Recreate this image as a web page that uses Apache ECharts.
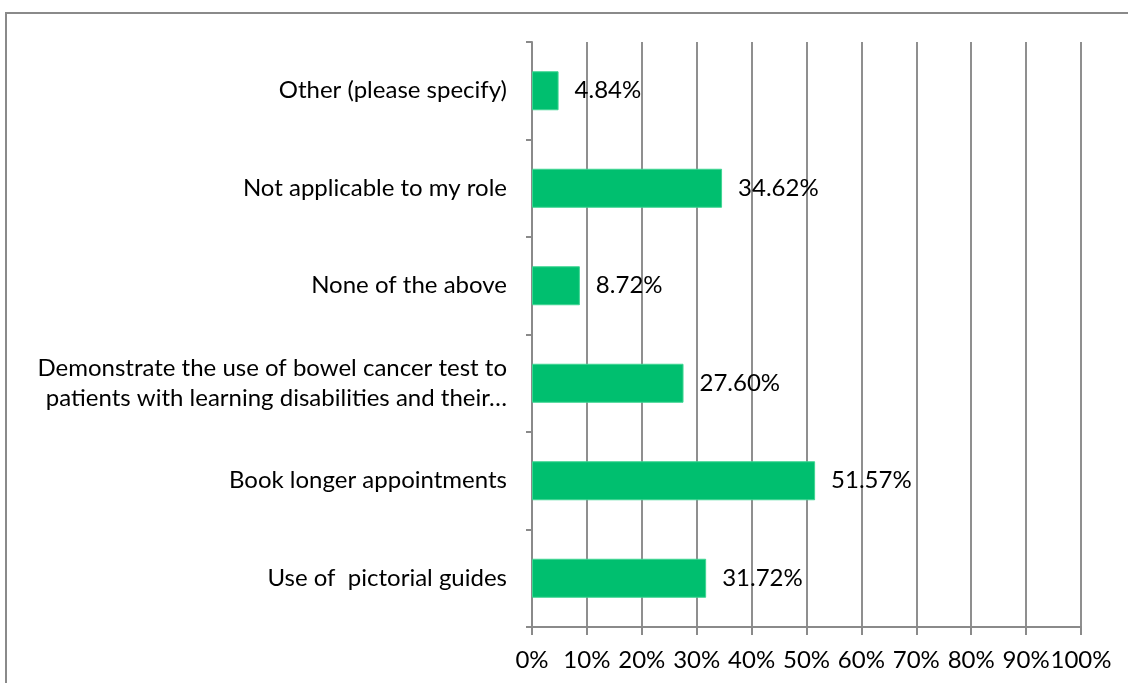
<!DOCTYPE html>
<html>
<head>
<meta charset="utf-8">
<script src="https://cdn.jsdelivr.net/npm/echarts@6/dist/echarts.min.js"></script>
<style>
  html, body { margin: 0; padding: 0; background: #fff; }
  #chart { width: 1128px; height: 683px; }
</style>
</head>
<body>
<div id="chart"></div>
<script>
// Survey responses, listed bottom to top
const categories = [
  'Use of  pictorial guides',
  'Book longer appointments',
  'Demonstrate the use of bowel cancer test to\npatients with learning disabilities and their…',
  'None of the above',
  'Not applicable to my role',
  'Other (please specify)'
];
const percentages = [31.72, 51.57, 27.60, 8.72, 34.62, 4.84];
const tickValues = [0, 10, 20, 30, 40, 50, 60, 70, 80, 90, 100];

const FONT = 'Lato, "Open Sans", sans-serif';
const chart = echarts.init(document.getElementById('chart'), null, { renderer: 'canvas' });

chart.setOption({
  animation: false,
  backgroundColor: '#ffffff',
  graphic: [{
    type: 'rect',
    shape: { x: 6, y: 13, width: 1140, height: 700 },
    style: { fill: 'none', stroke: '#8a8a8a', lineWidth: 2 },
    silent: true
  }],
  grid: { left: 532, right: 47, top: 42, bottom: 56, containLabel: false },
  xAxis: {
    type: 'value',
    min: tickValues[0],
    max: tickValues[tickValues.length - 1],
    interval: 10,
    axisLine: { show: true, lineStyle: { color: '#8a8a8a', width: 2 } },
    axisTick: { show: true, length: 8, lineStyle: { color: '#8a8a8a', width: 2 } },
    splitLine: { show: true, lineStyle: { color: '#8f8f8f', width: 2 } },
    axisLabel: {
      margin: 21,
      color: '#000',
      fontFamily: FONT,
      fontSize: 24,
      formatter: v => v + '%'
    }
  },
  yAxis: {
    type: 'category',
    data: categories,
    axisLine: { show: true, lineStyle: { color: '#8a8a8a', width: 2 } },
    axisTick: { show: true, length: 6, lineStyle: { color: '#8a8a8a', width: 2 } },
    axisLabel: {
      margin: 25,
      color: '#000',
      fontFamily: FONT,
      fontSize: 24,
      lineHeight: 30,
      align: 'right'
    }
  },
  series: [{
    type: 'bar',
    data: percentages,
    barWidth: 39,
    itemStyle: { color: '#00bf6f', borderColor: '#3fd592', borderWidth: 1 },
    label: {
      show: true,
      position: 'right',
      distance: 16,
      color: '#000',
      fontFamily: FONT,
      fontSize: 24,
      formatter: p => p.value.toFixed(2) + '%'
    }
  }]
});
</script>
</body>
</html>
